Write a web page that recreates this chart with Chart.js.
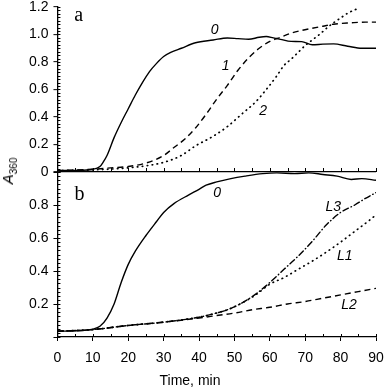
<!DOCTYPE html>
<html>
<head>
<meta charset="utf-8">
<script src="https://cdn.jsdelivr.net/npm/chart.js@4.4.1/dist/chart.umd.min.js"></script>
<style>
  html, body { margin: 0; padding: 0; background: #fff; }
  #wrap { position: relative; width: 385px; height: 387px; overflow: hidden; }
  #chart { position: absolute; left: 0; top: -5px; }
  #ytitle { position: absolute; left: 9px; top: 171px; transform: translate(-50%, -50%) rotate(-90deg);
            font: 15px "Liberation Sans", Arial, sans-serif; white-space: nowrap; color: #000; }
  #ytitle sub { font-size: 10px; }
  #xtitle { position: absolute; left: 190px; top: 380px; transform: translate(-50%, -50%);
            font: 14px "Liberation Sans", Arial, sans-serif; white-space: nowrap; color: #000; }
</style>
</head>
<body>
<div id="wrap">
  <canvas id="chart" width="385" height="392"></canvas>
  <div id="ytitle"><i>A</i><sub>360</sub></div>
  <div id="xtitle">Time, min</div>
</div>
<script>
// panel a
const tA0 = [0, 5, 10, 12, 13, 14, 16, 18, 20, 22, 24, 26, 28, 30, 32, 35, 39, 44, 48, 51, 54, 57, 59, 61, 63, 66, 69, 72, 75, 78, 82, 86, 90];
const vA0 = [0.01, 0.012, 0.02, 0.04, 0.075, 0.12, 0.25, 0.36, 0.46, 0.56, 0.65, 0.73, 0.79, 0.84, 0.87, 0.9, 0.94, 0.96, 0.975, 0.97, 0.965, 0.98, 0.985, 0.975, 0.965, 0.95, 0.948, 0.925, 0.93, 0.932, 0.915, 0.9, 0.9];
const tA1 = [0, 10, 15, 20, 25, 30, 33, 36, 39, 42, 45, 48, 51, 54, 57, 60, 63, 66, 69, 72, 75, 78, 83, 87, 90];
const vA1 = [0.01, 0.02, 0.03, 0.04, 0.065, 0.12, 0.18, 0.24, 0.32, 0.42, 0.53, 0.63, 0.74, 0.83, 0.9, 0.95, 0.98, 1.01, 1.03, 1.045, 1.06, 1.075, 1.085, 1.09, 1.09];
const tA2 = [0, 10, 20, 25, 30, 35, 39, 44, 48, 52, 56, 59, 62, 64, 66, 68, 70, 72, 74, 76, 78, 80, 82, 84.5];
const vA2 = [0.01, 0.015, 0.03, 0.045, 0.07, 0.12, 0.19, 0.26, 0.33, 0.42, 0.51, 0.6, 0.7, 0.775, 0.82, 0.87, 0.92, 0.96, 1.0, 1.045, 1.085, 1.12, 1.155, 1.185];

// panel b
const tB0 = [0, 5, 10, 12, 14, 16, 18, 20, 22, 25, 28, 30, 33, 37, 40, 42, 45, 49, 53, 58, 62, 67, 71, 75, 79, 83, 86, 90];
const vB0 = [0.035, 0.037, 0.048, 0.065, 0.115, 0.2, 0.33, 0.44, 0.52, 0.615, 0.7, 0.755, 0.81, 0.86, 0.895, 0.92, 0.94, 0.96, 0.975, 0.99, 0.995, 0.99, 0.995, 0.985, 0.975, 0.955, 0.96, 0.95];
const tL3 = [0, 10, 20, 30, 40, 44, 48, 52, 56, 60, 64, 68, 72, 76, 80, 84, 87, 90];
const vL3 = [0.035, 0.045, 0.07, 0.09, 0.12, 0.14, 0.165, 0.205, 0.26, 0.33, 0.41, 0.49, 0.58, 0.68, 0.755, 0.8, 0.84, 0.875];
const tL1 = [0, 10, 20, 30, 40, 44, 48, 52, 56, 60, 64, 68, 72, 76, 80, 84, 88, 90];
const vL1 = [0.035, 0.045, 0.07, 0.09, 0.12, 0.14, 0.165, 0.205, 0.255, 0.32, 0.36, 0.41, 0.46, 0.515, 0.575, 0.64, 0.705, 0.74];
const tL2 = [0, 10, 20, 30, 40, 45, 50, 55, 60, 65, 70, 75, 80, 85, 90];
const vL2 = [0.035, 0.045, 0.07, 0.09, 0.115, 0.13, 0.145, 0.165, 0.18, 0.2, 0.215, 0.235, 0.255, 0.275, 0.295];

const xTicks = [0, 10, 20, 30, 40, 50, 60, 70, 80, 90];

// text put on the plot, in data units
const notes = [
  { axis: 'ya', t: 44.4, v: 1.03, text: '0', font: 'italic 14px "Liberation Sans", Arial' },
  { axis: 'ya', t: 47.5, v: 0.77, text: '1', font: 'italic 14px "Liberation Sans", Arial' },
  { axis: 'ya', t: 58.1, v: 0.445, text: '2', font: 'italic 14px "Liberation Sans", Arial' },
  { axis: 'ya', t: 6.0, v: 1.14, text: 'a', font: '20px "Liberation Serif", "Times New Roman", serif' },
  { axis: 'yb', t: 45.1, v: 0.87, text: '0', font: 'italic 14px "Liberation Sans", Arial' },
  { axis: 'yb', t: 77.9, v: 0.785, text: 'L3', font: 'italic 14px "Liberation Sans", Arial' },
  { axis: 'yb', t: 81.2, v: 0.49, text: 'L1', font: 'italic 14px "Liberation Sans", Arial' },
  { axis: 'yb', t: 82.4, v: 0.194, text: 'L2', font: 'italic 14px "Liberation Sans", Arial' },
  { axis: 'yb', t: 6.2, v: 0.864, text: 'b', font: '20px "Liberation Serif", "Times New Roman", serif' }
];

function pts(ts, vs) {
  return ts.map((t, i) => ({ x: t, y: vs[i] }));
}

const solid = [];
const dashed = [6, 4];
const dotted = [0.5, 4.5];
const dashDot = [6, 3, 0.5, 3];

function series(label, ts, vs, axis, dash) {
  return {
    label: label,
    data: pts(ts, vs),
    yAxisID: axis,
    borderColor: '#000',
    borderWidth: dash === dotted ? 1.7 : 1.4,
    borderDash: dash,
    borderCapStyle: dash === dotted || dash === dashDot ? 'round' : 'butt',
    pointRadius: 0,
    fill: false,
    cubicInterpolationMode: 'monotone'
  };
}

const tickFont = { family: '"Liberation Sans", Arial, sans-serif', size: 14, lineHeight: 1 };

// small inward ticks, and the ticks along the line between the panels
function drawMinorTicks(chart) {
  const ctx = chart.ctx;
  const x = chart.scales.x;
  const ya = chart.scales.ya;
  const yb = chart.scales.yb;
  ctx.save();
  ctx.setLineDash([]);
  ctx.lineCap = 'butt';
  ctx.strokeStyle = '#000';
  ctx.lineWidth = 1;
  ctx.beginPath();
  for (let t = 0; t <= 90; t += 5) {
    const px = Math.round(x.getPixelForValue(t)) + 0.5;
    ctx.moveTo(px, x.top);
    ctx.lineTo(px, x.top - 3);
    const py = ya.getPixelForValue(0);
    ctx.moveTo(px, py);
    ctx.lineTo(px, py - 4);
  }
  [ya, yb].forEach((s) => {
    for (let k = 0; k * 0.025 <= s.max + 1e-9; k++) {
      const py = Math.round(s.getPixelForValue(k * 0.025)) + 0.5;
      ctx.moveTo(x.left, py);
      ctx.lineTo(x.left + 3, py);
    }
  });
  ctx.stroke();
  ctx.restore();
}

const labelsOnPlot = {
  id: 'labelsOnPlot',
  afterDatasetsDraw(chart) {
    drawMinorTicks(chart);
    const ctx = chart.ctx;
    ctx.save();
    ctx.fillStyle = '#000';
    ctx.textAlign = 'center';
    ctx.textBaseline = 'middle';
    notes.forEach((n) => {
      ctx.font = n.font;
      ctx.fillText(n.text, chart.scales.x.getPixelForValue(n.t), chart.scales[n.axis].getPixelForValue(n.v));
    });
    ctx.restore();
  }
};

new Chart(document.getElementById('chart'), {
  type: 'line',
  data: {
    datasets: [
      series('0', tA0, vA0, 'ya', solid),
      series('1', tA1, vA1, 'ya', dashed),
      series('2', tA2, vA2, 'ya', dotted),
      series('0', tB0, vB0, 'yb', solid),
      series('L3', tL3, vL3, 'yb', dashDot),
      series('L1', tL1, vL1, 'yb', dotted),
      series('L2', tL2, vL2, 'yb', dashed)
    ]
  },
  options: {
    responsive: false,
    animation: false,
    devicePixelRatio: 1,
    layout: { padding: { left: 24, right: 9, top: 0, bottom: 12 } },
    plugins: { legend: { display: false }, tooltip: { enabled: false } },
    scales: {
      x: {
        type: 'linear',
        min: 0,
        max: 90,
        afterBuildTicks: (s) => { s.ticks = xTicks.map((v) => ({ value: v })); },
        afterFit: (s) => { s.paddingRight = 0; s.paddingLeft = 0; },
        ticks: { color: '#000', font: tickFont, padding: 10, maxRotation: 0, autoSkip: false },
        grid: { drawOnChartArea: false, tickLength: 4, color: '#000', lineWidth: 1 },
        border: { color: '#000', width: 1.3 }
      },
      yb: {
        type: 'linear',
        position: 'left',
        stack: 'panels',
        stackWeight: 1,
        min: 0,
        max: 1.0,
        ticks: {
          stepSize: 0.2,
          autoSkip: false,
          color: '#000',
          font: tickFont,
          padding: 5,
          callback: (v) => (v > 0.01 && v < 0.99 ? v.toFixed(1) : '')
        },
        grid: { drawOnChartArea: false, tickLength: 4, color: '#000', lineWidth: 1 },
        border: { color: '#000', width: 1.3 }
      },
      ya: {
        type: 'linear',
        position: 'left',
        stack: 'panels',
        stackWeight: 1,
        min: 0,
        max: 1.2,
        ticks: {
          stepSize: 0.2,
          autoSkip: false,
          color: '#000',
          font: tickFont,
          padding: 5,
          callback: (v) => (Math.abs(v) < 1e-6 ? '0' : v.toFixed(1))
        },
        grid: {
          drawOnChartArea: true,
          tickLength: 4,
          lineWidth: 1.3,
          color: (c) => (c.tick && Math.abs(c.tick.value) < 1e-6 ? '#000' : 'rgba(0,0,0,0)'),
          tickColor: '#000',
          tickWidth: 1
        },
        border: { color: '#000', width: 1.3 }
      }
    }
  },
  plugins: [labelsOnPlot]
});
</script>
</body>
</html>
